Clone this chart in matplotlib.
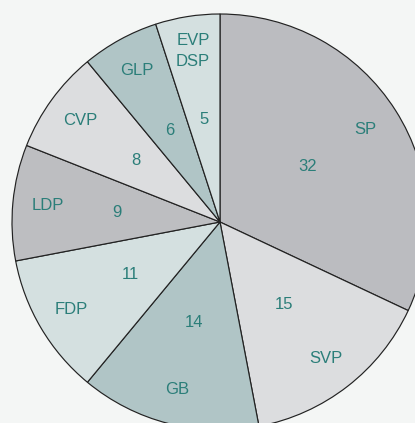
import matplotlib
matplotlib.use("Agg")
import matplotlib.pyplot as plt

# party seat shares (clockwise from top)
parties = ["SP", "SVP", "GB", "FDP", "LDP", "CVP", "GLP", "EVP\nDSP"]
seats = [32, 15, 14, 11, 9, 8, 6, 5]
colors = ["#bbbcc0", "#dcdddf", "#b0c5c6", "#d4e0e0",
          "#bdbec1", "#dcdddf", "#b0c5c6", "#d4e0e0"]

W, H = 415, 423
fig = plt.figure(figsize=(W / 100, H / 100), dpi=100)
fig.patch.set_facecolor("#f4f6f5")
ax = fig.add_axes([0, 0, 1, 1])
ax.set_facecolor("#f4f6f5")

wedges, texts, autotexts = ax.pie(
    seats, labels=parties, colors=colors, startangle=90, counterclock=False,
    center=(220, H - 222), radius=208, frame=True,
    labeldistance=0.83, pctdistance=0.5,
    autopct=lambda p: "{:.0f}".format(p * sum(seats) / 100),
    wedgeprops=dict(edgecolor="#222222", linewidth=0.85),
    textprops=dict(color="#2b7e79", fontsize=12, family="Liberation Sans"),
)
for t in texts:
    t.set_horizontalalignment("center")
    t.set_verticalalignment("center")
    t.set_linespacing(1.5)

ax.set_xlim(0, W)
ax.set_ylim(0, H)
ax.set_aspect("equal")
ax.axis("off")

fig.savefig("out.png", dpi=100, facecolor=fig.get_facecolor())
